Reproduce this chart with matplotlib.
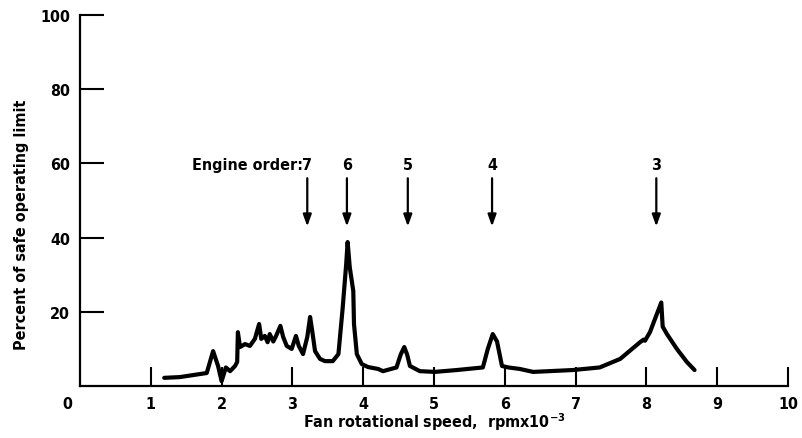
import matplotlib
matplotlib.use("Agg")
import matplotlib.pyplot as plt
from matplotlib import font_manager

# Measured response: fan speed (thousands of rpm) vs percent of safe operating limit
speed = [1.19, 1.41, 1.79, 1.88, 1.95, 2.00, 2.06, 2.12, 2.19, 2.22, 2.23,
         2.26, 2.33, 2.40, 2.47, 2.53, 2.56, 2.61, 2.65, 2.68, 2.73, 2.77,
         2.83, 2.87, 2.92, 2.99, 3.05, 3.09, 3.15, 3.21, 3.25, 3.28, 3.32,
         3.39, 3.46, 3.57, 3.65, 3.71, 3.76, 3.78, 3.81, 3.86, 3.87, 3.91,
         3.98, 4.07, 4.21, 4.28, 4.47, 4.53, 4.58, 4.62, 4.66, 4.80, 5.01,
         5.32, 5.69, 5.76, 5.83, 5.89, 5.96, 6.05, 6.21, 6.40, 6.96, 7.34,
         7.63, 7.91, 7.96, 7.98, 8.05, 8.12, 8.21, 8.23, 8.29, 8.43, 8.57,
         8.68]
percent = [2.2, 2.4, 3.5, 9.4, 5.4, 1.3, 5.0, 4.0, 5.4, 6.5, 14.5,
           10.5, 11.3, 10.8, 12.7, 16.7, 12.7, 13.5, 11.8, 14.0, 12.0, 13.5,
           16.2, 13.2, 10.8, 10.0, 13.5, 10.8, 8.6, 13.2, 18.6, 14.8, 9.4,
           7.3, 6.7, 6.7, 8.6, 21.0, 32.9, 38.8, 32.0, 25.6, 16.7, 8.6,
           5.9, 5.1, 4.6, 4.0, 5.0, 8.5, 10.5, 8.5, 5.4, 4.0, 3.8,
           4.3, 5.0, 10.0, 14.0, 12.0, 5.4, 5.0, 4.6, 3.8, 4.3, 5.0,
           7.3, 11.8, 12.5, 12.2, 14.5, 18.0, 22.5, 16.0, 14.0, 10.0, 6.5,
           4.3]

# Engine-order crossings marked with arrows
orders = ["7", "6", "5", "4", "3"]
order_speed = [3.21, 3.77, 4.63, 5.82, 8.14]

xticks = [1, 2, 3, 4, 5, 6, 7, 8, 9, 10]
xtick_labels = ["1", "2", "3", "4", "5", "6", "7", "8", "9", "10"]
yticks = [20, 40, 60, 80, 100]
ytick_labels = ["20", "40", "60", "80", "100"]

# prefer a narrow face for the compact lettering
fonts = font_manager.fontManager.ttflist
narrow = [f for f in fonts if ("Narrow" in f.name or "Condensed" in f.name
                               or f.stretch in ("condensed", "semi-condensed"))]
family = "DejaVu Sans"
stretch = "normal"
for cand in ("Liberation Sans Narrow", "DejaVu Sans Condensed"):
    if any(f.name == cand for f in fonts):
        family = cand
        break
else:
    cond = [f for f in narrow if f.name == "DejaVu Sans"]
    if cond:
        stretch = "condensed"
    elif narrow:
        family = narrow[0].name

plt.rcParams["font.family"] = [family, "DejaVu Sans"]
plt.rcParams["font.stretch"] = stretch
plt.rcParams["font.weight"] = "bold"
plt.rcParams["mathtext.fontset"] = "custom"
plt.rcParams["mathtext.rm"] = family
plt.rcParams["mathtext.bf"] = family + ":bold"
plt.rcParams["mathtext.default"] = "bf"

fs = 11.5 if stretch == "condensed" or family != "DejaVu Sans" else 10.5

fig = plt.figure(figsize=(8.03, 4.39), dpi=100)
ax = fig.add_axes([80 / 803, 1 - 387 / 439, 708 / 803, 371 / 439])

ax.plot(speed, percent, color="black", lw=3.0, solid_joinstyle="round",
        solid_capstyle="round")

ax.set_xlim(0, 10)
ax.set_ylim(0, 100)
for side in ("top", "right"):
    ax.spines[side].set_visible(False)
for side in ("left", "bottom"):
    ax.spines[side].set_linewidth(1.6)

ax.set_xticks(xticks)
ax.set_xticklabels(xtick_labels)
ax.set_yticks(yticks)
ax.set_yticklabels(ytick_labels)
ax.tick_params(axis="x", direction="in", length=14, width=1.5, pad=7,
               labelsize=fs)
ax.tick_params(axis="y", direction="in", length=17, width=1.5, pad=7,
               labelsize=fs)

# origin label sits just left of the y axis
ax.annotate("0", xy=(0, 0), xytext=(-9, -7), textcoords="offset points",
            ha="center", va="top", fontsize=fs, fontweight="bold")

for lab, xs in zip(orders, order_speed):
    ax.annotate("", xy=(xs, 43), xytext=(xs, 56),
                arrowprops=dict(arrowstyle="-|>,head_length=0.7,head_width=0.25",
                                color="black", lw=1.6, shrinkA=0, shrinkB=0))
    ax.text(xs, 59.6, lab, ha="center", va="center", fontsize=fs,
            fontweight="bold")
ax.annotate("Engine order:", xy=(order_speed[0], 59.6), xytext=(-3.0, 0),
            textcoords="offset points", ha="right", va="center",
            fontsize=fs, fontweight="bold")

ax.set_xlabel("Fan rotational speed,  rpmx10$^{-3}$", fontsize=fs,
              fontweight="bold", labelpad=0)
fig.text(22 / 803, 1 - 225 / 439, "Percent of safe operating limit",
         rotation=90, ha="center", va="center", fontsize=fs,
         fontweight="bold")

fig.savefig("out.png", dpi=100)
